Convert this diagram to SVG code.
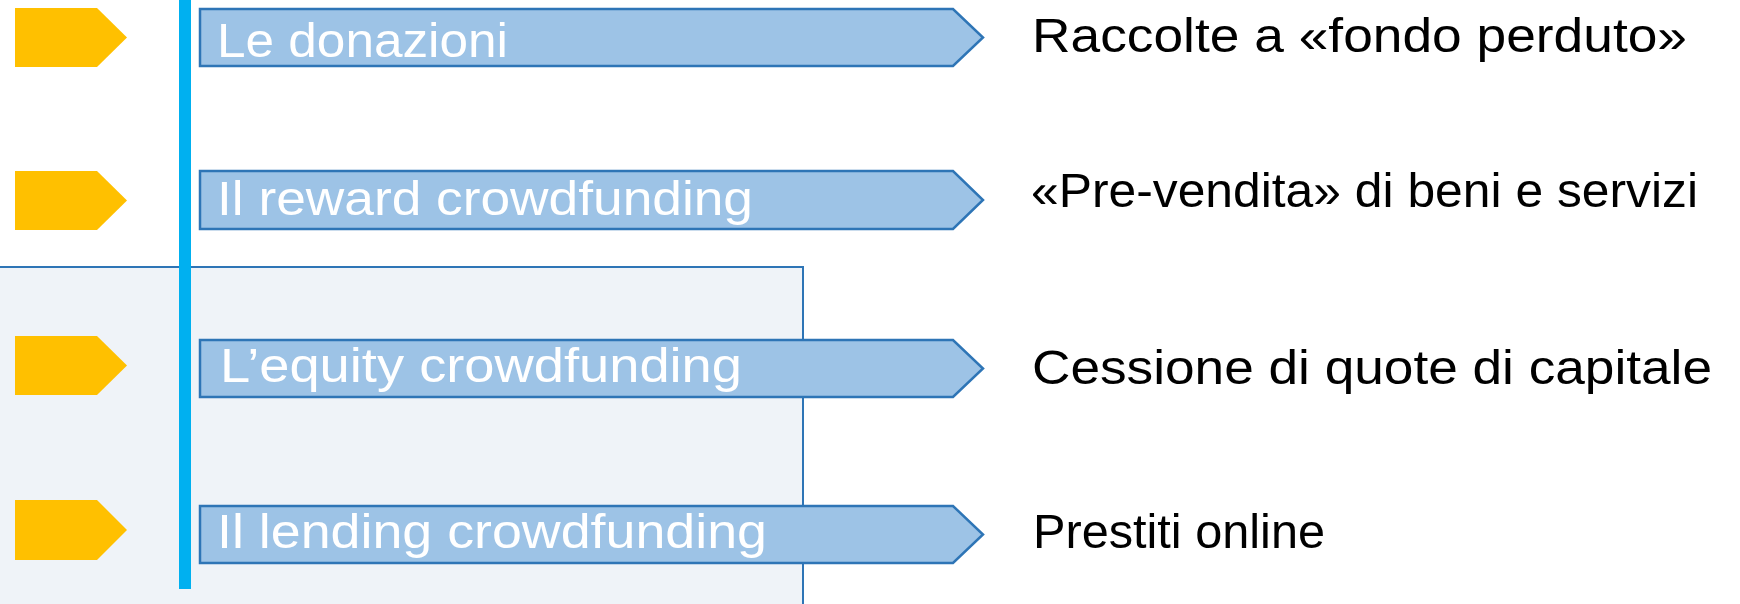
<svg xmlns="http://www.w3.org/2000/svg" width="1740" height="604" viewBox="0 0 1740 604">
<style>
.bg{fill:#ffffff}
.region{fill:#eff3f8;stroke:#2e75b6;stroke-width:2}
.mark{fill:#ffc000}
.bar{fill:#00b0f0}
.box{fill:#9dc3e6;stroke:#2e75b6;stroke-width:2.5;stroke-linejoin:miter}
.lbl{font-family:"Liberation Sans",Arial,sans-serif;font-size:48px;fill:#ffffff}
.desc{font-family:"Liberation Sans",Arial,sans-serif;font-size:48px;fill:#000000}
</style>
<rect class="bg" x="0" y="0" width="1740" height="604"/>
<g id="region">
<path class="region" d="M-2,267 H803 V606 H-2 Z"/>
</g>
<g id="connectors">
<rect class="bar" x="179" y="0" width="12" height="589"/>
</g>
<g id="row1">
<path class="mark" d="M15,8 H97 L127,37.5 L97,67 H15 Z"/>
<path class="box" d="M200,9 H953 L983,37.5 L953,66 H200 Z"/>
<text class="lbl" x="217" y="57" textLength="291" lengthAdjust="spacingAndGlyphs">Le donazioni</text>
<text class="desc" x="1032" y="52" textLength="655" lengthAdjust="spacingAndGlyphs">Raccolte a «fondo perduto»</text>
</g>
<g id="row2">
<path class="mark" d="M15,171 H97 L127,200.5 L97,230 H15 Z"/>
<path class="box" d="M200,171 H953 L983,200 L953,229 H200 Z"/>
<text class="lbl" x="217" y="215" textLength="536" lengthAdjust="spacingAndGlyphs">Il reward crowdfunding</text>
<text class="desc" x="1031" y="207" textLength="667" lengthAdjust="spacingAndGlyphs">«Pre-vendita» di beni e servizi</text>
</g>
<g id="row3">
<path class="mark" d="M15,336 H97 L127,365.5 L97,395 H15 Z"/>
<path class="box" d="M200,340 H953 L983,368.5 L953,397 H200 Z"/>
<text class="lbl" x="220" y="382" textLength="522" lengthAdjust="spacingAndGlyphs">L’equity crowdfunding</text>
<text class="desc" x="1032" y="384" textLength="680" lengthAdjust="spacingAndGlyphs">Cessione di quote di capitale</text>
</g>
<g id="row4">
<path class="mark" d="M15,500 H97 L127,530 L97,560 H15 Z"/>
<path class="box" d="M200,506 H953 L983,534.5 L953,563 H200 Z"/>
<text class="lbl" x="217" y="548" textLength="550" lengthAdjust="spacingAndGlyphs">Il lending crowdfunding</text>
<text class="desc" x="1033" y="548" textLength="292" lengthAdjust="spacingAndGlyphs">Prestiti online</text>
</g>
</svg>
